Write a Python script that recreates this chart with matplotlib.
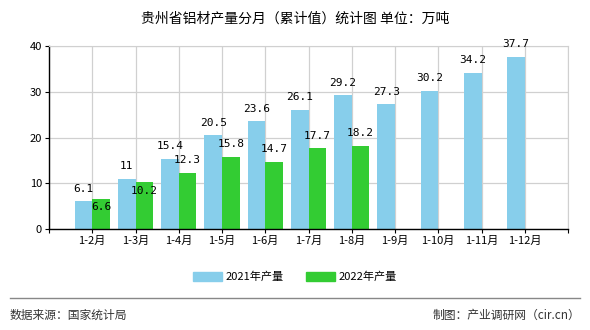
import numpy as np
import matplotlib.pyplot as plt
from matplotlib.patches import Patch
from matplotlib.lines import Line2D

plt.rcParams['font.family'] = ['Noto Sans CJK SC', 'DejaVu Sans']

months = ['1-2月', '1-3月', '1-4月', '1-5月', '1-6月', '1-7月',
          '1-8月', '1-9月', '1-10月', '1-11月', '1-12月']
prod_2021 = [6.1, 11, 15.4, 20.5, 23.6, 26.1, 29.2, 27.3, 30.2, 34.2, 37.7]
prod_2022 = [6.6, 10.2, 12.3, 15.8, 14.7, 17.7, 18.2]
labels_2021 = ['6.1', '11', '15.4', '20.5', '23.6', '26.1', '29.2', '27.3', '30.2', '34.2', '37.7']
labels_2022 = ['6.6', '10.2', '12.3', '15.8', '14.7', '17.7', '18.2']

c21 = '#87ceeb'
c22 = '#33cc33'

fig = plt.figure(figsize=(5.9, 3.3), dpi=100)
ax = fig.add_axes([49/590, 1-229/330, 519/590, 183/330])

x = np.arange(len(months))
w = 0.41
ax.bar(x - w/2, prod_2021, width=w, color=c21, zorder=2)
ax.bar(x[:len(prod_2022)] + w/2, prod_2022, width=w, color=c22, zorder=2)

# value labels
for xi, v, s in zip(x, prod_2021, labels_2021):
    ax.annotate(s, (xi - w/2, v), xytext=(0, 9), textcoords='offset points',
                ha='center', va='center', fontsize=8, family='DejaVu Sans Mono', zorder=3)
dy_2022 = [-6, -6, 9, 9, 9, 9, 9]  # first two pushed down to avoid overlap
for xi, v, s, dy in zip(x, prod_2022, labels_2022, dy_2022):
    ax.annotate(s, (xi + w/2, v), xytext=(0, dy), textcoords='offset points',
                ha='center', va='center', fontsize=8, family='DejaVu Sans Mono', zorder=3)

ax.set_xlim(-1, len(months))
ax.set_ylim(0, 40)
ax.set_yticks([0, 10, 20, 30, 40])
ax.set_xticks(np.arange(-1, len(months) + 1))
ax.set_xticklabels([''] + months + [''])
ax.tick_params(axis='both', labelsize=8, length=3, color='black', pad=2)
ax.grid(True, color='#d0d0d0', linewidth=0.9, zorder=0)
ax.set_axisbelow(True)
for s in ['top', 'right']:
    ax.spines[s].set_color('#d0d0d0')
for s in ['left', 'bottom']:
    ax.spines[s].set_color('black')
    ax.spines[s].set_linewidth(1)

fig.text(0.5, 1-18/330, '贵州省铝材产量分月（累计值）统计图 单位：万吨',
         ha='center', va='center', fontsize=10)

handles = [Patch(color=c21, label='2021年产量'), Patch(color=c22, label='2022年产量')]
fig.legend(handles=handles, loc='center', bbox_to_anchor=(0.5, 1-277/330), ncol=2,
           frameon=False, fontsize=8, handlelength=2.6, handleheight=0.9,
           columnspacing=2.0, handletextpad=0.3)

fig.add_artist(Line2D([10/590, 580/590], [1-298/330, 1-298/330],
                      transform=fig.transFigure, color='#888888', linewidth=1))
fig.text(10/590, 1-315/330, '数据来源：国家统计局', ha='left', va='center',
         fontsize=8.5, color='#333333')
fig.text(580/590, 1-315/330, '制图：产业调研网（cir.cn）', ha='right', va='center',
         fontsize=8.5, color='#333333')

fig.savefig('out.png', dpi=100)
